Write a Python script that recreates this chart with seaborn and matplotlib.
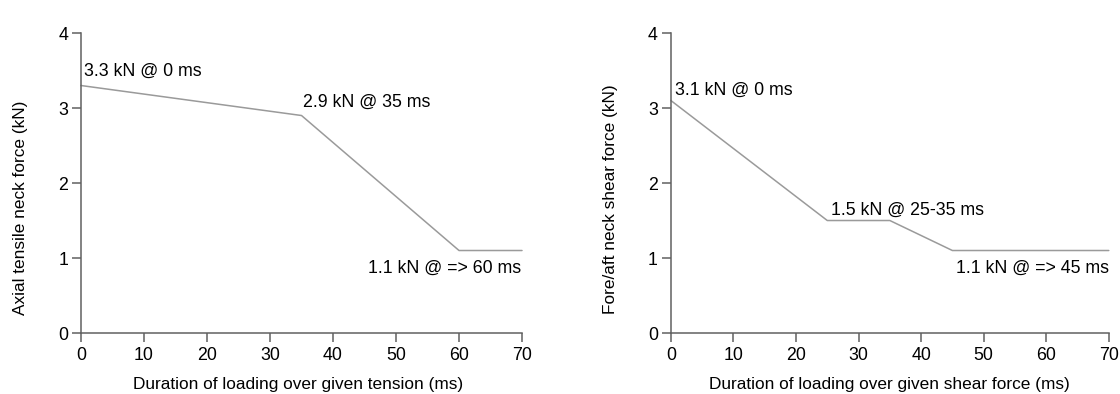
import matplotlib
matplotlib.use("Agg")
import matplotlib.pyplot as plt
import seaborn as sns
import pandas as pd

sns.set_style("ticks")
plt.rcParams['font.family'] = ['Liberation Sans', 'DejaVu Sans']
plt.rcParams['text.color'] = 'black'
plt.rcParams['axes.labelcolor'] = 'black'

# Data
tension_ms = [0, 35, 60, 70]
tension_kn = [3.3, 2.9, 1.1, 1.1]
shear_ms = [0, 25, 35, 45, 70]
shear_kn = [3.1, 1.5, 1.5, 1.1, 1.1]
xticks = [0, 10, 20, 30, 40, 50, 60, 70]
yticks = [0, 1, 2, 3, 4]
tension_labels = ["3.3 kN @ 0 ms", "2.9 kN @ 35 ms", "1.1 kN @ => 60 ms"]
shear_labels = ["3.1 kN @ 0 ms", "1.5 kN @ 25-35 ms", "1.1 kN @ => 45 ms"]

fig = plt.figure(figsize=(11.2, 3.94), dpi=100)
ax1 = fig.add_axes([0.0723, 0.1548, 0.3938, 0.7614])
ax2 = fig.add_axes([0.599, 0.1548, 0.391, 0.7614])

line_color = "#9a9a9a"
spine_color = "#606060"
fs = 12.8
lfs = 12.4

def style(ax, xlabel, ylabel, xl_pos, yl_pos):
    ax.set_xlim(0, 70)
    ax.set_ylim(0, 4)
    ax.set_xticks(xticks)
    ax.set_yticks(yticks)
    for s in ["top", "right"]:
        ax.spines[s].set_visible(False)
    for s in ["left", "bottom"]:
        ax.spines[s].set_color(spine_color)
        ax.spines[s].set_linewidth(1.1)
    ax.tick_params(axis="both", direction="out", length=6.3, width=1.1,
                   color=spine_color, labelsize=fs, labelcolor="black")
    ax.tick_params(axis="x", pad=4)
    ax.tick_params(axis="y", pad=3)
    ax.set_xlabel(xlabel, fontsize=lfs, color="black")
    ax.set_ylabel(ylabel, fontsize=lfs, color="black")
    ax.xaxis.label.set_va("center")
    ax.yaxis.label.set_va("center")
    ax.xaxis.set_label_coords(*xl_pos)
    ax.yaxis.set_label_coords(*yl_pos)
    ax.grid(False)

df1 = pd.DataFrame({"ms": tension_ms, "kn": tension_kn})
df2 = pd.DataFrame({"ms": shear_ms, "kn": shear_kn})
sns.lineplot(data=df1, x="ms", y="kn", ax=ax1, color=line_color, linewidth=1.1, clip_on=False)
sns.lineplot(data=df2, x="ms", y="kn", ax=ax2, color=line_color, linewidth=1.1, clip_on=False)

style(ax1, "Duration of loading over given tension (ms)", "Axial tensile neck force (kN)",
      (0.492, -0.172), (-0.138, 0.418))
style(ax2, "Duration of loading over given shear force (ms)", "Fore/aft neck shear force (kN)",
      (0.499, -0.172), (-0.139, 0.447))

# Annotations (left)
ax1.text(tension_ms[0] + 0.5, tension_kn[0] + 0.07, tension_labels[0], fontsize=fs, ha="left", va="bottom", color="black")
ax1.text(tension_ms[1] + 0.2, tension_kn[1] + 0.06, tension_labels[1], fontsize=fs, ha="left", va="bottom", color="black")
ax1.text(tension_ms[3] - 0.2, tension_kn[2] - 0.12, tension_labels[2], fontsize=fs, ha="right", va="top", color="black")

# Annotations (right)
ax2.text(shear_ms[0] + 0.7, shear_kn[0] + 0.02, shear_labels[0], fontsize=fs, ha="left", va="bottom", color="black")
ax2.text(shear_ms[1] + 0.6, shear_kn[1] + 0.02, shear_labels[1], fontsize=fs, ha="left", va="bottom", color="black")
ax2.text(shear_ms[4], shear_kn[3] - 0.12, shear_labels[2], fontsize=fs, ha="right", va="top", color="black")

fig.savefig("out.png", dpi=100, facecolor="white")
